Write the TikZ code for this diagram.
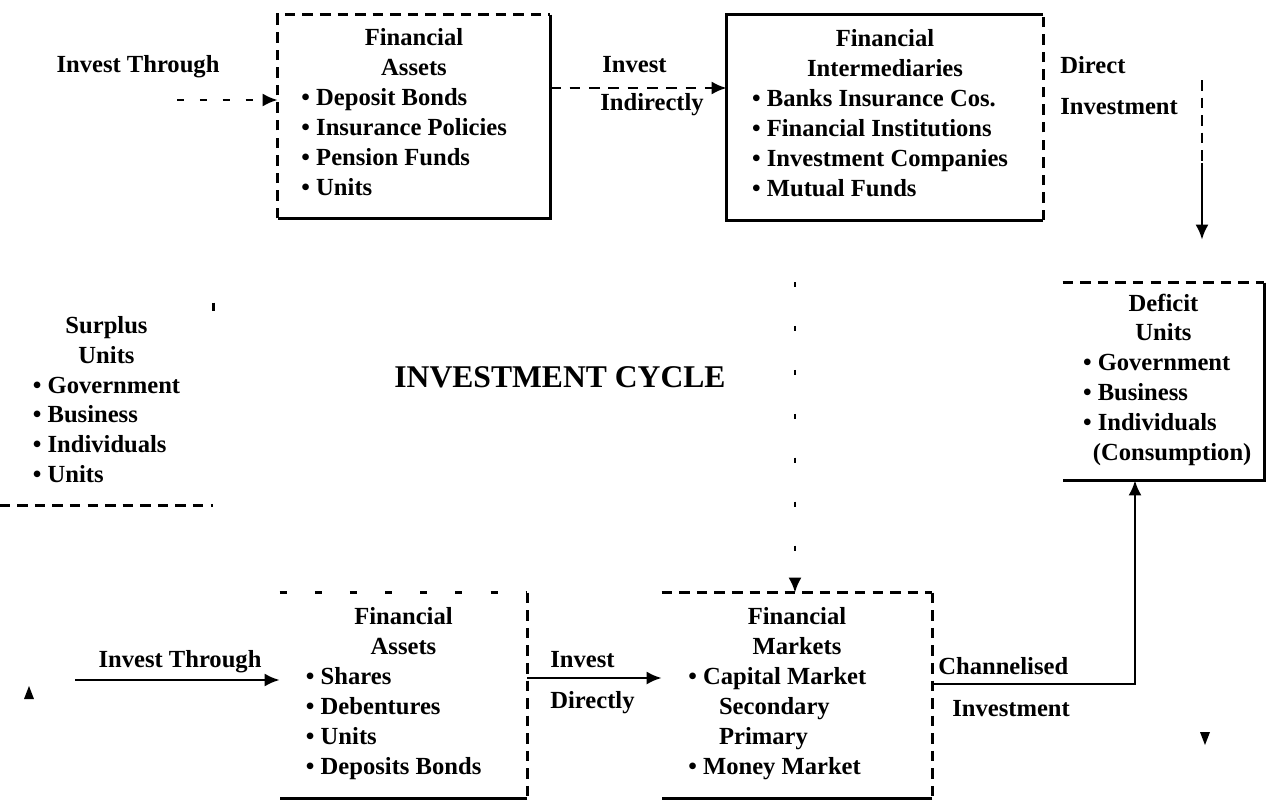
\documentclass[tikz,border=0pt]{standalone}
\usepackage{fontspec}
\setmainfont{Liberation Serif}
\usetikzlibrary{arrows.meta, positioning}
\tikzset{
  unitbox/.style={inner sep=0pt, font=\fontsize{14}{17}\selectfont\bfseries, align=center},
  flowlabel/.style={inner sep=0pt, font=\fontsize{14}{17}\selectfont\bfseries},
  solidedge/.style={line width=1.5pt},
  dashedge/.style={line width=1.4pt, dash pattern=on 6pt off 4pt},
  sparseedge/.style={line width=1.4pt, dash pattern=on 4pt off 16pt},
  flowline/.style={line width=1.4pt, -{Latex[length=3mm,width=2.6mm]}},
}
\newcommand{\unititems}[1]{\begin{tabular}[t]{@{}l@{}}#1\end{tabular}}
\newcommand{\itm}{\textbullet\ }

\begin{document}
\begin{tikzpicture}[x=0.02cm, y=-0.02cm]
\useasboundingbox (0,0) rectangle (1269,799);

% boxes
\node[unitbox, minimum width=5.44cm, minimum height=4.06cm] (fa1) at (414,116.5)
  {Financial\\Assets\\\unititems{\itm Deposit Bonds\\ \itm Insurance Policies\\ \itm Pension Funds\\ \itm Units}\kern0.8em};
\node[unitbox, minimum width=6.32cm, minimum height=4.1cm] (fi) at (885,117.5)
  {Financial\\Intermediaries\\\unititems{\itm Banks Insurance Cos.\\ \itm Financial Institutions\\ \itm Investment Companies\\ \itm Mutual Funds}\kern0.4em};
\node[unitbox, minimum width=4.02cm, minimum height=3.94cm] (du) at (1163.5,381.5)
  {Deficit\\Units\\\kern0.3em\unititems{\itm Government\\ \itm Business\\ \itm Individuals\\ \hspace{0.4em}(Consumption)}};
\node[unitbox, minimum width=4.26cm, minimum height=4.04cm] (su) at (106.5,404)
  {Surplus\\Units\\\unititems{\itm Government\\ \itm Business\\ \itm Individuals\\ \itm Units}};
\node[unitbox, minimum width=4.94cm, minimum height=4.1cm] (fa2) at (403.5,695.5)
  {Financial\\Assets\\\unititems{\itm Shares\\ \itm Debentures\\ \itm Units\\ \itm Deposits Bonds}\kern0.8em};
\node[unitbox, minimum width=5.4cm, minimum height=4.1cm] (fm) at (797,695.5)
  {Financial\\Markets\\\unititems{\itm Capital Market\\ \hspace{1.25em}Secondary\\ \hspace{1.25em}Primary\\ \itm Money Market}\kern1.6em};

\node[inner sep=0pt, font=\fontsize{18}{20}\selectfont\bfseries] (cycle) at (560,377) {INVESTMENT CYCLE};

% borders
\draw[dashedge] (fa1.south west) |- (fa1.north east);
\draw[solidedge] (fa1.north east) |- (fa1.south west);
\draw[solidedge] (fi.north east) -- (fi.north west) -- (fi.south west) -- (fi.south east);
\draw[dashedge] (fi.south east) -- (fi.north east);
\draw[dashedge] (du.north west) -- (du.north east);
\draw[solidedge] (du.north east) |- (du.south west);
\draw[dashedge] (su.south west) -- (su.south east);
\draw[solidedge] (su.north east) -- ++(0,8);
\draw[sparseedge] (fa2.north west) -- (fa2.north east);
\draw[dashedge] (fa2.north east) -- (fa2.south east);
\draw[solidedge] (fa2.south east) -- (fa2.south west);
\draw[dashedge] (fm.north west) -- (fm.north east);
\draw[dashedge] (fm.north east) -- (fm.south east);
\draw[solidedge] (fm.south east) -- (fm.south west);

% labels
\node[flowlabel] (thr1) at (138,67) {Invest Through};
\node[flowlabel, anchor=west] (inv1) at (602,65) {Invest};
\node[flowlabel, anchor=west] (indir) at (600,105) {Indirectly};
\node[flowlabel, anchor=west] (dir1) at (1060,65) {Direct};
\node[flowlabel, anchor=west] (dinv) at (1060,107) {Investment};
\node[flowlabel] (thr2) at (180,662) {Invest Through};
\node[flowlabel, anchor=west] (inv2) at (550,660) {Invest};
\node[flowlabel, anchor=west] (dirly) at (550,703) {Directly};
\node[flowlabel, anchor=west] (chan) at (938,666) {Channelised};
\node[flowlabel, anchor=west] (cinv) at (952,709) {Investment};

% connectors
\coordinate (tl) at (177,100);
\coordinate (ind) at (0,88);
\coordinate (dtop) at (1202,80);
\coordinate (dmid) at (1202,163);
\coordinate (mtop) at (795,282);
\coordinate (bl) at (75,680);
\coordinate (dir) at (0,678);
\coordinate (cturn) at (1135,684);
\coordinate (upmark) at (29,693);
\coordinate (downmark) at (1205,738);

\draw[flowline, dash pattern=on 4pt off 9pt] (tl) -- (tl -| fa1.west);
\draw[flowline, dash pattern=on 6pt off 5pt] (fa1.east |- ind) -- (fi.west |- ind);
\draw[dashedge] (dtop) -- (dmid);
\draw[flowline, shorten >=0.86cm] (dmid) -- (dmid |- du.north);
\draw[flowline, dash pattern=on 3pt off 22pt] (mtop) -- (mtop |- fm.north);
\draw[flowline] (bl) -- (bl -| fa2.west);
\draw[flowline] (fa2.east |- dir) -- (fm.west |- dir);
\draw[flowline] (fm.east |- cturn) -- (cturn) -- (cturn |- du.south);
\fill (upmark) ++(0,-7) -- ++(-5,13) -- ++(10,0) -- cycle;
\fill (downmark) ++(0,7) -- ++(-5,-13) -- ++(10,0) -- cycle;
\end{tikzpicture}
\end{document}
